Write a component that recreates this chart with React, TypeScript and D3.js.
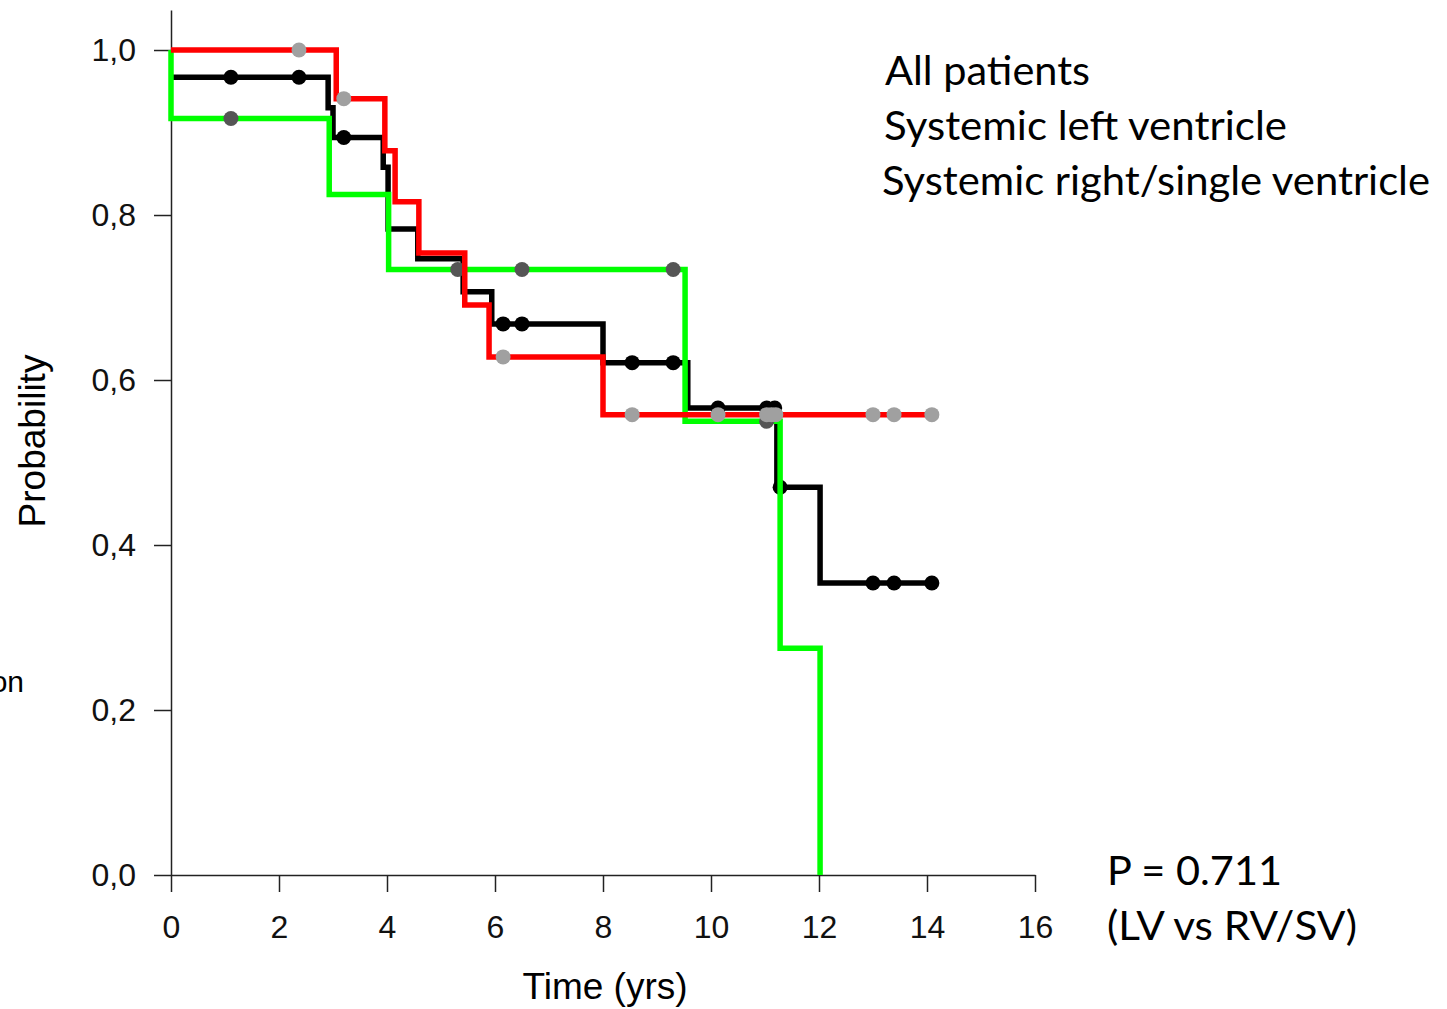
import React, { useRef, useEffect } from "react";
import * as d3 from "d3";

// Kaplan-Meier step data (time in years, probability)
const allTimes = [0, 2.91, 3.0, 3.93, 4.02, 4.57, 5.41, 5.94, 8.0, 9.57, 11.22, 12.02, 14.09];
const allSurv = [0.967, 0.93, 0.894, 0.858, 0.783, 0.747, 0.707, 0.668, 0.621, 0.566, 0.47, 0.354, 0.354];
const allCensor = [1.11, 2.37, 3.2, 6.15, 6.5, 8.54, 9.3, 10.13, 11.03, 11.18, 11.28, 13.0, 13.39, 14.09];

const lvTimes = [0, 3.06, 3.96, 4.15, 4.59, 5.44, 5.89, 8.0, 14.09];
const lvSurv = [1.0, 0.941, 0.878, 0.816, 0.754, 0.691, 0.628, 0.558, 0.558];
const lvCensor = [2.37, 3.2, 6.15, 8.54, 10.13, 11.03, 11.12, 11.2, 13.0, 13.39, 14.09];

const rvTimes = [0, 0, 2.93, 4.03, 9.52, 11.28, 12.02];
const rvSurv = [1.0, 0.917, 0.825, 0.734, 0.55, 0.275, 0.0];
const rvCensor = [1.11, 5.31, 6.5, 9.3, 11.03];

const xTicks = [0, 2, 4, 6, 8, 10, 12, 14, 16];
const yTicks = [0, 0.2, 0.4, 0.6, 0.8, 1.0];
const legendLabels = ["All patients", "Systemic left ventricle", "Systemic right/single ventricle"];

const App: React.FC = () => {
  const ref = useRef<SVGSVGElement | null>(null);

  useEffect(() => {
    if (!ref.current) return;
    const svg = d3.select(ref.current);
    svg.selectAll("*").remove();

    const x = d3.scaleLinear().domain([0, 16]).range([171, 1035]);
    const y = d3.scaleLinear().domain([0, 1]).range([875, 50]);

    const axisFont = "Liberation Sans, Arial, sans-serif";
    const textFont = "Lato, 'Open Sans', sans-serif";

    // y axis (line runs a bit above 1,0)
    const yAxis = svg
      .append("g")
      .attr("transform", "translate(171,0)")
      .call(
        d3
          .axisLeft(d3.scaleLinear().domain([0, 1.0485]).range([875, 10]))
          .tickValues(yTicks)
          .tickSize(17)
          .tickSizeOuter(0)
          .tickPadding(18)
          .tickFormat((d) => d3.format(".1f")(d as number).replace(".", ","))
      );
    // x axis
    const xAxis = svg
      .append("g")
      .attr("transform", "translate(0,875)")
      .call(d3.axisBottom(x).tickValues(xTicks).tickSize(17).tickSizeOuter(0).tickPadding(23));

    [yAxis, xAxis].forEach((g) => {
      g.selectAll("path, line").attr("stroke", "#222").attr("stroke-width", 1.5);
      g.selectAll("text").attr("font-family", axisFont).attr("font-size", 32).attr("fill", "#111");
    });

    const series = [
      { times: allTimes, surv: allSurv, censor: allCensor, color: "#000000", dot: "#000000" },
      { times: rvTimes, surv: rvSurv, censor: rvCensor, color: "#00ff00", dot: "#555555" },
      { times: lvTimes, surv: lvSurv, censor: lvCensor, color: "#ff0000", dot: "#a0a0a0" },
    ];

    const line = d3
      .line<[number, number]>()
      .x((d) => x(d[0]))
      .y((d) => y(d[1]))
      .curve(d3.curveStepAfter);

    series.forEach((s) => {
      const pts = s.times.map((t, i) => [t, s.surv[i]] as [number, number]);
      svg
        .append("path")
        .attr("d", line(pts))
        .attr("fill", "none")
        .attr("stroke", s.color)
        .attr("stroke-width", 5.5);
      const at = (t: number) => {
        const i = d3.bisectRight(s.times, t) - 1;
        return s.surv[Math.max(0, i)];
      };
      svg
        .append("g")
        .selectAll("circle")
        .data(s.censor)
        .enter()
        .append("circle")
        .attr("cx", (d) => x(d))
        .attr("cy", (d) => y(at(d)))
        .attr("r", 7.5)
        .attr("fill", s.dot);
    });

    // axis titles
    svg
      .append("text")
      .attr("x", 605)
      .attr("y", 999)
      .attr("text-anchor", "middle")
      .attr("font-family", axisFont)
      .attr("font-size", 37)
      .text("Time (yrs)");
    svg
      .append("text")
      .attr("transform", "translate(45,441) rotate(-90)")
      .attr("text-anchor", "middle")
      .attr("font-family", axisFont)
      .attr("font-size", 37)
      .text("Probability");
    // fragment of a label cut by the left edge in the original
    svg
      .append("text")
      .attr("x", 24)
      .attr("y", 692)
      .attr("text-anchor", "end")
      .attr("font-family", axisFont)
      .attr("font-size", 30)
      .text("on");

    // legend labels
    const legendX = [885, 884, 882];
    const legendW = [205, 403, 548];
    legendLabels.forEach((l, i) => {
      svg
        .append("text")
        .attr("x", legendX[i])
        .attr("y", 85 + i * 55)
        .attr("font-family", textFont)
        .attr("font-size", 40)
        .attr("textLength", legendW[i])
        .attr("lengthAdjust", "spacingAndGlyphs")
        .text(l);
    });

    svg
      .append("text")
      .attr("x", 1107)
      .attr("y", 885)
      .attr("font-family", textFont)
      .attr("font-size", 40)
      .attr("textLength", 175)
      .attr("lengthAdjust", "spacingAndGlyphs")
      .text("P = 0.711");
    svg
      .append("text")
      .attr("x", 1107)
      .attr("y", 940)
      .attr("font-family", textFont)
      .attr("font-size", 40)
      .attr("textLength", 250)
      .attr("lengthAdjust", "spacingAndGlyphs")
      .text("(LV vs RV/SV)");
  }, []);

  return (
    <svg
      ref={ref}
      width={1447}
      height={1009}
      style={{ position: "absolute", left: 0, top: 0, background: "#fff" }}
    />
  );
};

export default App;
